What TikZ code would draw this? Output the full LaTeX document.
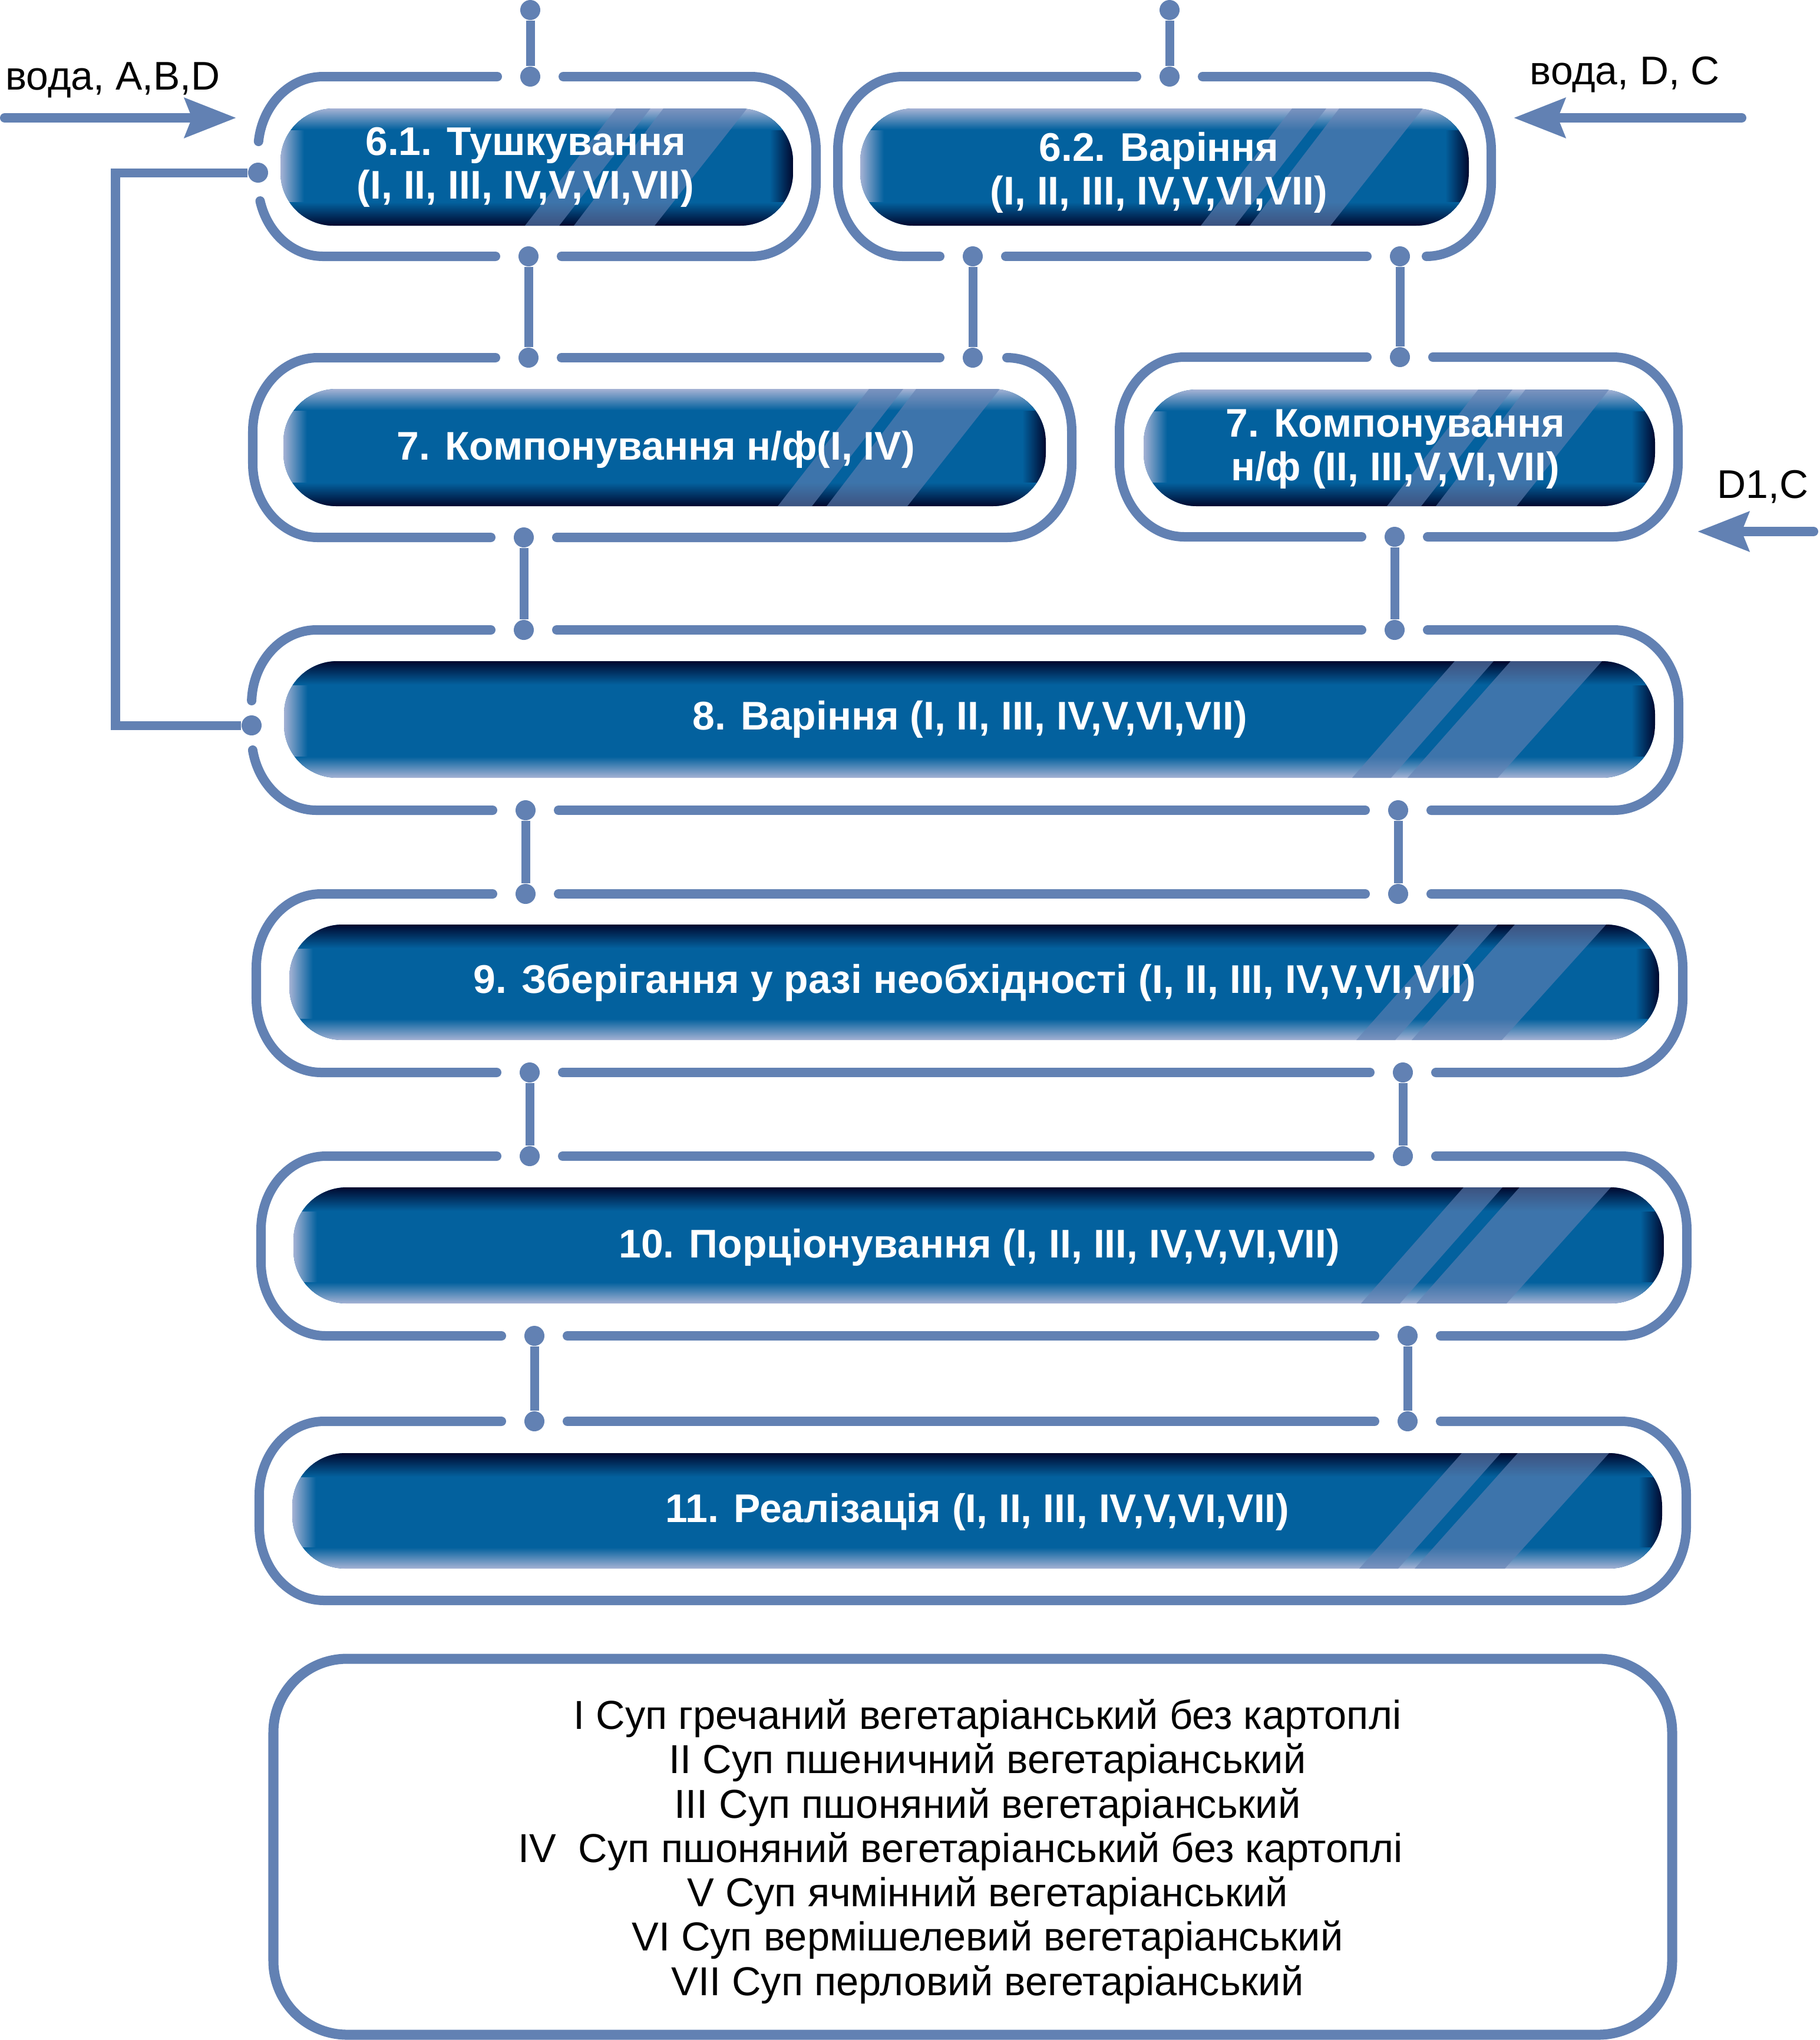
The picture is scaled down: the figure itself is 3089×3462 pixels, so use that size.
\documentclass[tikz,border=0pt]{standalone}
\usepackage{fontspec}
\setmainfont{Liberation Sans}
\usetikzlibrary{arrows.meta,calc}
\definecolor{fr}{RGB}{98,129,179}
\definecolor{bbase}{RGB}{3,97,158}
\definecolor{bdark}{RGB}{0,8,46}
\definecolor{blight}{RGB}{165,178,212}
\tikzset{
 frameline/.style={draw=fr, line width=0.16cm, line cap=round},
 frarc/.style={x radius=110, y radius=125},
 conn/.style={draw=fr, line width=0.15cm},
 dot/.style={circle, fill=fr, inner sep=0pt, minimum size=0.34cm},
 ttl/.style={text=white, font=\fontsize{19.3}{22}\selectfont\bfseries, anchor=base, inner sep=0pt},
 lbl/.style={text=black, font=\fontsize{19.3}{22}\selectfont, anchor=base west, inner sep=0pt},
 leg/.style={text=black, font=\fontsize{19.5}{23}\selectfont, anchor=base, inner sep=0pt},
 arr/.style={draw=fr, line width=0.16cm, line cap=round, -{Stealth[length=0.87cm,width=0.66cm,inset=0.12cm]}},
 stripe/.style={fill=fr, fill opacity=0.62},
}
\newcommand{\mkboxA}[4]{%
 \begin{scope}
  \clip[rounded corners=0.9cm] (#1,#2) rectangle (#3,#4);
  \fill[bbase] (#1,#2) rectangle (#3,#4);
  \shade[left color=blight, right color=bbase] (#1,#2) rectangle ({#1+40},#4);
  \shade[left color=bbase, right color=bdark] ({#3-40},#2) rectangle (#3,#4);
  \shade[top color=blight, bottom color=bbase] (#1,#2) rectangle (#3,{#2+36});
  \shade[top color=bbase, bottom color=bdark] (#1,{#4-40}) rectangle (#3,#4);
  \fill[stripe] ({#3-455},#4) -- ({#3-397},#4) -- ({#3-242},#2) -- ({#3-300},#2) -- cycle;
  \fill[stripe] ({#3-372},#4) -- ({#3-235},#4) -- ({#3-78},#2) -- ({#3-220},#2) -- cycle;
 \end{scope}}
\newcommand{\mkboxB}[4]{%
 \begin{scope}
  \clip[rounded corners=0.9cm] (#1,#2) rectangle (#3,#4);
  \fill[bbase] (#1,#2) rectangle (#3,#4);
  \shade[left color=blight, right color=bbase] (#1,#2) rectangle ({#1+40},#4);
  \shade[left color=bbase, right color=bdark] ({#3-40},#2) rectangle (#3,#4);
  \shade[top color=bdark, bottom color=bbase] (#1,#2) rectangle (#3,{#2+40});
  \shade[top color=bbase, bottom color=blight] (#1,{#4-36}) rectangle (#3,#4);
  \fill[stripe] ({#3-514},#4) -- ({#3-448},#4) -- ({#3-274},#2) -- ({#3-340},#2) -- cycle;
  \fill[stripe] ({#3-420},#4) -- ({#3-267},#4) -- ({#3-90},#2) -- ({#3-245},#2) -- cycle;
 \end{scope}}
\begin{document}
\begin{tikzpicture}[x=0.01cm, y=-0.01cm]
\useasboundingbox (0,0) rectangle (3089,3462);

% ---------- frames (elliptical corners, gaps at the joints) ----------
% F6.1  L438 R1385 T130 B435
\draw[frameline] (956,130) -- (1275,130) arc[frarc, start angle=270, end angle=360] -- (1385,310) arc[frarc, start angle=0, end angle=90] -- (953,435);
\draw[frameline] (841,435) -- (548,435) arc[frarc, start angle=90, end angle=165.6];
\draw[frameline] (438.8,240) arc[frarc, start angle=186.9, end angle=270] -- (844,130);
% F6.2  L1422 R2531 T130 B435
\draw[frameline] (2041,130) -- (2421,130) arc[frarc, start angle=270, end angle=360] -- (2531,310) arc[frarc, start angle=0, end angle=90];
\draw[frameline] (2320,435) -- (1707,435);
\draw[frameline] (1595,435) -- (1532,435) arc[frarc, start angle=90, end angle=180] -- (1422,255) arc[frarc, start angle=180, end angle=270] -- (1929,130);
% F7L  L429 R1819 T607 B912
\draw[frameline] (953,607) -- (1595,607);
\draw[frameline] (1709,607) arc[frarc, start angle=270, end angle=360] -- (1819,787) arc[frarc, start angle=0, end angle=90] -- (945,912);
\draw[frameline] (833,912) -- (539,912) arc[frarc, start angle=90, end angle=180] -- (429,732) arc[frarc, start angle=180, end angle=270] -- (841,607);
% F7R  L1900 R2848 T606 B911
\draw[frameline] (2432,606) -- (2738,606) arc[frarc, start angle=270, end angle=360] -- (2848,786) arc[frarc, start angle=0, end angle=90] -- (2423,911);
\draw[frameline] (2311,911) -- (2010,911) arc[frarc, start angle=90, end angle=180] -- (1900,731) arc[frarc, start angle=180, end angle=270] -- (2320,606);
% F8  L427 R2849 T1069 B1375
\draw[frameline] (945,1069) -- (2311,1069);
\draw[frameline] (2423,1069) -- (2739,1069) arc[frarc, start angle=270, end angle=360] -- (2849,1250) arc[frarc, start angle=0, end angle=90] -- (2429,1375);
\draw[frameline] (2317,1375) -- (948,1375);
\draw[frameline] (836,1375) -- (537,1375) arc[frarc, start angle=90, end angle=169.4];
\draw[frameline] (427.1,1189) arc[frarc, start angle=182.3, end angle=270] -- (833,1069);
% F9  L435 R2856 T1517 B1820
\draw[frameline] (948,1517) -- (2317,1517);
\draw[frameline] (2429,1517) -- (2746,1517) arc[frarc, start angle=270, end angle=360] -- (2856,1695) arc[frarc, start angle=0, end angle=90] -- (2437,1820);
\draw[frameline] (2325,1820) -- (955,1820);
\draw[frameline] (843,1820) -- (545,1820) arc[frarc, start angle=90, end angle=180] -- (435,1642) arc[frarc, start angle=180, end angle=270] -- (836,1517);
% F10  L443 R2863 T1962 B2267
\draw[frameline] (955,1962) -- (2325,1962);
\draw[frameline] (2437,1962) -- (2753,1962) arc[frarc, start angle=270, end angle=360] -- (2863,2142) arc[frarc, start angle=0, end angle=90] -- (2445,2267);
\draw[frameline] (2333,2267) -- (963,2267);
\draw[frameline] (851,2267) -- (553,2267) arc[frarc, start angle=90, end angle=180] -- (443,2087) arc[frarc, start angle=180, end angle=270] -- (843,1962);
% F11  L440 R2862 T2412 B2716
\draw[frameline] (963,2412) -- (2333,2412);
\draw[frameline] (2445,2412) -- (2752,2412) arc[frarc, start angle=270, end angle=360] -- (2862,2591) arc[frarc, start angle=0, end angle=90] -- (550,2716) arc[frarc, start angle=90, end angle=180] -- (440,2537) arc[frarc, start angle=180, end angle=270] -- (851,2412);
% legend frame
\draw[draw=fr, line width=0.17cm, rounded corners=1.25cm] (464,2815) rectangle (2838,3453);

% ---------- blue boxes ----------
\mkboxA{476}{184}{1346}{383}
\mkboxA{1460}{184}{2493}{383}
\mkboxA{481}{660}{1775}{859}
\mkboxA{1941}{661}{2809}{859}
\mkboxB{482}{1122}{2809}{1320}
\mkboxB{491}{1569}{2816}{1765}
\mkboxB{498}{2015}{2824}{2212}
\mkboxB{496}{2466}{2821}{2662}

% ---------- dots ----------
\node[dot] (dT1) at (900,17) {};
\node[dot] (dT2) at (1985,17) {};
\node[dot] (d61t) at (900,130) {};
\node[dot] (d61b) at (897,435) {};
\node[dot] (d61l) at (438,293) {};
\node[dot] (d62t) at (1985,130) {};
\node[dot] (d62b1) at (1651,435) {};
\node[dot] (d62b2) at (2376,435) {};
\node[dot] (d7Lt1) at (897,607) {};
\node[dot] (d7Lt2) at (1651,607) {};
\node[dot] (d7Lb) at (889,912) {};
\node[dot] (d7Rt) at (2376,606) {};
\node[dot] (d7Rb) at (2367,911) {};
\node[dot] (d8t1) at (889,1069) {};
\node[dot] (d8t2) at (2367,1069) {};
\node[dot] (d8b1) at (892,1375) {};
\node[dot] (d8b2) at (2373,1375) {};
\node[dot] (d8l) at (427,1231) {};
\node[dot] (d9t1) at (892,1517) {};
\node[dot] (d9t2) at (2373,1517) {};
\node[dot] (d9b1) at (899,1820) {};
\node[dot] (d9b2) at (2381,1820) {};
\node[dot] (d10t1) at (899,1962) {};
\node[dot] (d10t2) at (2381,1962) {};
\node[dot] (d10b1) at (907,2267) {};
\node[dot] (d10b2) at (2389,2267) {};
\node[dot] (d11t1) at (907,2412) {};
\node[dot] (d11t2) at (2389,2412) {};

% ---------- connectors ----------
\draw[conn] (dT1) -- (d61t);
\draw[conn] (dT2) -- (d62t);
\draw[conn] (d61b) -- (d7Lt1);
\draw[conn] (d62b1) -- (d7Lt2);
\draw[conn] (d62b2) -- (d7Rt);
\draw[conn] (d7Lb) -- (d8t1);
\draw[conn] (d7Rb) -- (d8t2);
\draw[conn] (d8b1) -- (d9t1);
\draw[conn] (d8b2) -- (d9t2);
\draw[conn] (d9b1) -- (d10t1);
\draw[conn] (d9b2) -- (d10t2);
\draw[conn] (d10b1) -- (d11t1);
\draw[conn] (d10b2) -- (d11t2);
\coordinate (fb) at (196,293);
\draw[conn, line join=miter] (d61l) -- (fb) |- (d8l);

% ---------- input arrows ----------
\coordinate (aL0) at (8,200);
\coordinate (aL1) at (401,200);
\coordinate (aR0) at (2956,200);
\coordinate (aR1) at (2569,200);
\coordinate (aD0) at (3078,902);
\coordinate (aD1) at (2881,902);
\draw[arr] (aL0) -- (aL1);
\draw[arr] (aR0) -- (aR1);
\draw[arr] (aD0) -- (aD1);
\node[lbl] (lv1) at (9,152) {вода, A,B,D};
\node[lbl] (lv2) at (2596,143) {вода, D, C};
\node[lbl] (ld1) at (2914,845) {D1,C};

% ---------- titles ----------
\node[ttl] (t61a) at (892,263) {6.1. Тушкування};
\node[ttl] (t61b) at (892,337) {(I, II, III, IV,V,VI,VII)};
\node[ttl] (t62a) at (1967,273) {6.2. Варіння};
\node[ttl] (t62b) at (1967,347) {(I, II, III, IV,V,VI,VII)};
\node[ttl] (t7La) at (1113,780) {7. Компонування н/ф(I, IV)};
\node[ttl] (t7Ra) at (2368,741) {7. Компонування};
\node[ttl] (t7Rb) at (2368,815) {н/ф (II, III,V,VI,VII)};
\node[ttl] (t8) at (1646,1238) {8. Варіння (I, II, III, IV,V,VI,VII)};
\node[ttl] (t9) at (1654,1685) {9. Зберігання у разі необхідності (I, II, III, IV,V,VI,VII)};
\node[ttl] (t10) at (1662,2134) {10. Порціонування (I, II, III, IV,V,VI,VII)};
\node[ttl] (t11) at (1659,2583) {11. Реалізація (I, II, III, IV,V,VI,VII)};

% ---------- legend ----------
\node[leg] (l1) at (1676,2934) {I Суп гречаний вегетаріанський без картоплі};
\node[leg] (l2) at (1676,3009) {II Суп пшеничний вегетаріанський};
\node[leg] (l3) at (1676,3085) {III Суп пшоняний вегетаріанський};
\node[leg] (l4) at (1630,3160) {IV\ \ Суп пшоняний вегетаріанський без картоплі};
\node[leg] (l5) at (1676,3235) {V Суп ячмінний вегетаріанський};
\node[leg] (l6) at (1676,3310) {VI Суп вермішелевий вегетаріанський};
\node[leg] (l7) at (1676,3386) {VII Суп перловий вегетаріанський};
\end{tikzpicture}
\end{document}
